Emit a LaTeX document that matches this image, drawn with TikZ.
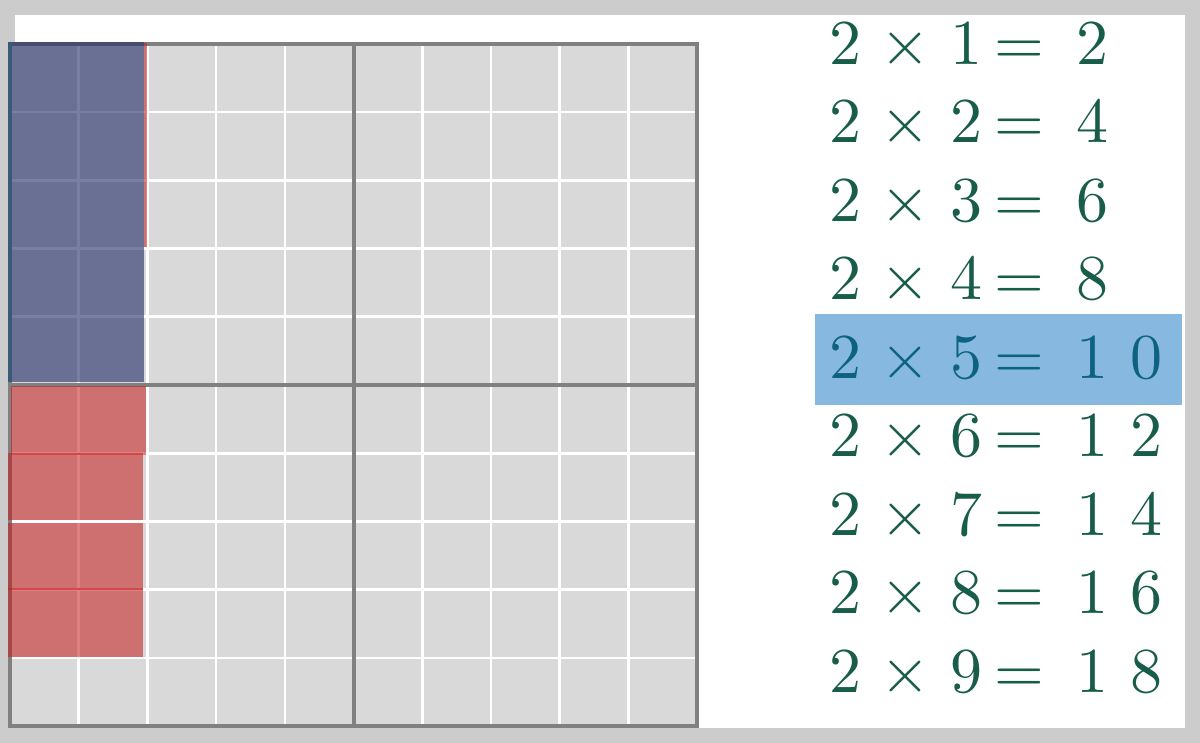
\documentclass[tikz,border=0pt]{standalone}
\definecolor{framegray}{RGB}{204,204,204}
\definecolor{cellgray}{RGB}{217,217,217}
\definecolor{thickgray}{RGB}{128,128,128}
\definecolor{ovred}{RGB}{199,27,27}
\definecolor{ovblue}{RGB}{33,43,102}
\definecolor{edgeteal}{RGB}{50,98,128}
\definecolor{eqgreen}{RGB}{24,92,74}
\definecolor{hlblue}{RGB}{0,106,189}
\tikzset{
  gridline/.style={white, line width=2.6pt},
  thickline/.style={thickgray, line width=4pt},
  redov/.style={fill=ovred, fill opacity=0.55},
  blueov/.style={fill=ovblue, fill opacity=0.6},
  glyph/.style={anchor=base, inner sep=0pt, outer sep=0pt, scale=6.4, text=eqgreen},
  hlbox/.style={fill=hlblue, fill opacity=0.47}
}
\begin{document}
\begin{tikzpicture}[x=1pt,y=-1pt]
\useasboundingbox (0,0) rectangle (1200,743);
\fill[framegray] (0,0) rectangle (1200,743);
\fill[white] (15,15) rectangle (1185,728);
% grid
\fill[cellgray] (10,44) rectangle (697,726);
\foreach \i in {1,...,9}{
  \draw[gridline] ({10+68.7*\i},44) -- ({10+68.7*\i},726);
  \draw[gridline] (10,{44+68.2*\i}) -- (697,{44+68.2*\i});
}
\draw[thickline] (10,44) rectangle (697,726);
\draw[thickline] (353.5,44) -- (353.5,726);
\draw[thickline] (10,385) -- (697,385);
% overlays
\fill[redov] (143.5,43) rectangle (146.5,247);
\fill[blueov] (8,42) rectangle (144,382);
\fill[edgeteal, fill opacity=0.6] (8,42) rectangle (11.5,382);
\fill[redov] (11,386) rectangle (146,455);
\fill[redov] (8,453) rectangle (143,520.3);
\fill[redov] (8,522.7) rectangle (143,590);
\fill[redov] (8,588) rectangle (143,657);
% equations
\foreach \n in {1,...,9}{
  \pgfmathsetmacro\yb{64.3+(\n-1)*78.5}
  \pgfmathtruncatemacro\r{2*\n}
  \node[glyph] (a\n) at (845,\yb) {$2$};
  \node[glyph] (t\n) at (905,\yb) {$\times$};
  \node[glyph] (b\n) at (966,\yb) {$\n$};
  \node[glyph] (e\n) at (1019.5,\yb) {$=$};
  \ifnum\r<10
    \node[glyph] (r\n) at (1092,\yb) {$\r$};
  \else
    \pgfmathtruncatemacro\rt{\r/10}
    \pgfmathtruncatemacro\ro{\r-10*\rt}
    \node[glyph] (rt\n) at (1092,\yb) {$\rt$};
    \node[glyph] (ro\n) at (1146,\yb) {$\ro$};
  \fi
}
\fill[hlbox] (815,314) rectangle (1182,405);
\end{tikzpicture}
\end{document}
